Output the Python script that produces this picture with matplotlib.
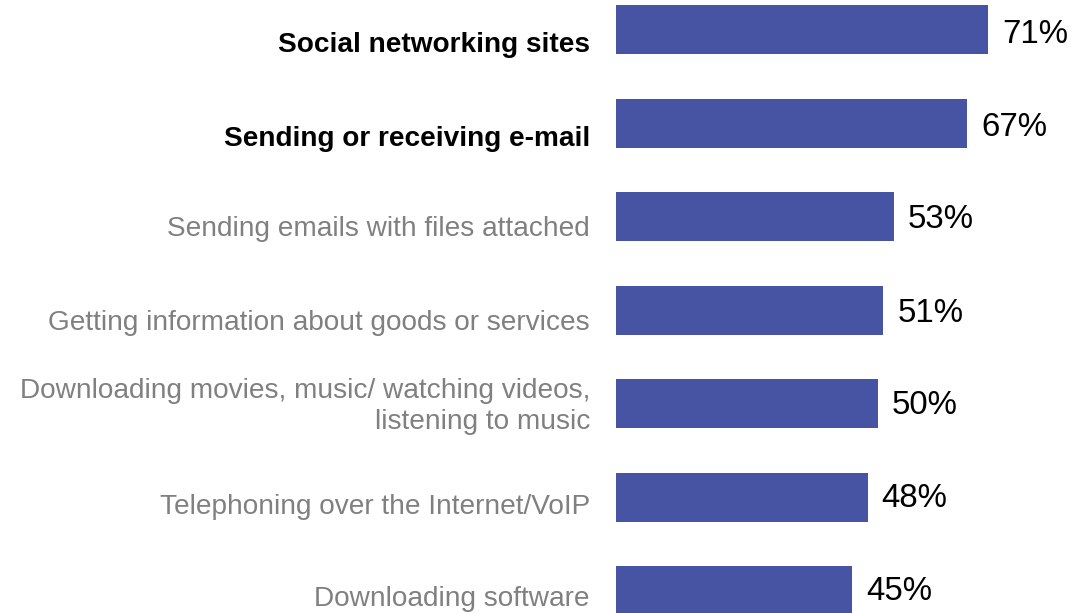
import matplotlib
matplotlib.use("Agg")
import matplotlib.pyplot as plt
from matplotlib import transforms

categories = [
    "Social networking sites",
    "Sending or receiving e-mail",
    "Sending emails with files attached",
    "Getting information about goods or services",
    "Downloading movies, music/ watching videos,\nlistening to music",
    "Telephoning over the Internet/VoIP",
    "Downloading software",
]
values = [71, 67, 53, 51, 50, 48, 45]
bold_flags = [True, True, False, False, False, False, False]

# baseline offsets (pixels below bar centre) for the text, layout only
cat_baseline_px = [22.2, 23, 20, 20.5, 25.8, 17, 15]
val_baseline_px = [13.2, 13, 12, 12, 10, 10, 9.5]

plt.rcParams['font.family'] = ['Liberation Sans', 'DejaVu Sans']

W, H = 1073, 613
fig = plt.figure(figsize=(W / 100, H / 100), dpi=100)
ax_left = 616 / W
ax = fig.add_axes([ax_left, 0, 1 - ax_left, 1])

px_per_pct = 5.24
ax.set_xlim(0, (W - 616) / px_per_pct)
row_px = 93.5
first_px = 29.5
ax.set_ylim((H - first_px) / row_px, -first_px / row_px)

bar_color = "#4754A4"
ypos = list(range(len(categories)))
ax.barh(ypos, values, height=49 / row_px, color=bar_color, clip_on=True)

for i, (cat, v, b, d, dv) in enumerate(zip(categories, values, bold_flags,
                                            cat_baseline_px, val_baseline_px)):
    tr = transforms.offset_copy(ax.transData, fig=fig, x=-26, y=-d, units='dots')
    ax.text(0, i, cat, transform=tr, ha='right', va='baseline',
            fontsize=20.2, fontweight='bold' if b else 'normal',
            color='black' if b else '#808080', linespacing=1.25, clip_on=False)
    tr2 = transforms.offset_copy(ax.transData, fig=fig, x=14, y=-dv, units='dots')
    ax.text(v, i, f"{v}%", transform=tr2, ha='left', va='baseline',
            fontsize=23.8, color='black', clip_on=False)

ax.axis('off')
fig.savefig("out.png", dpi=100)
